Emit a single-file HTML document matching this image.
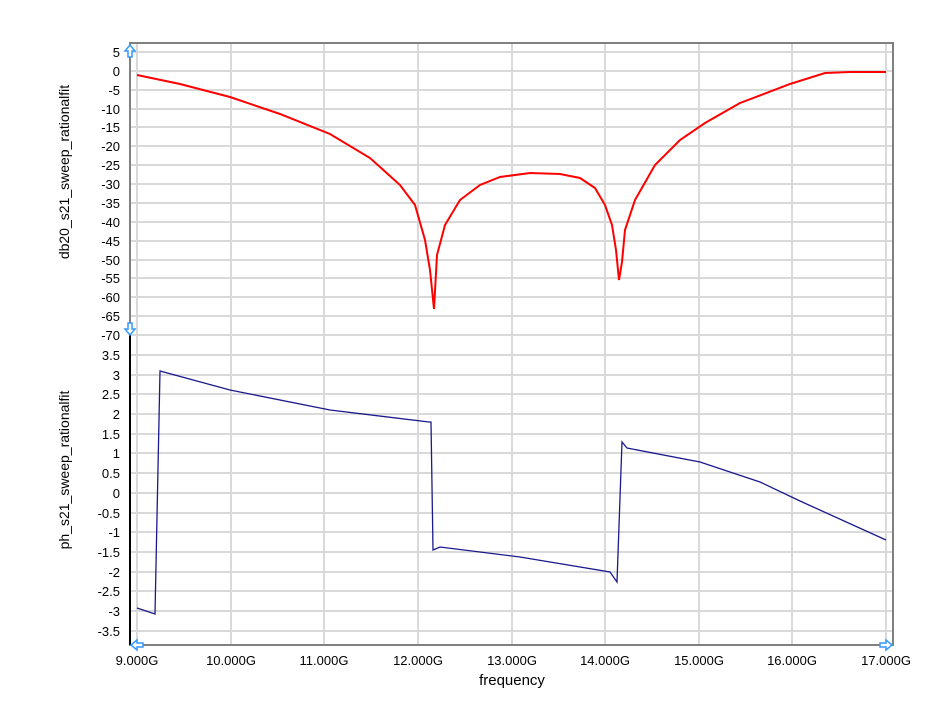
<!DOCTYPE html>
<html><head><style>
body{margin:0;background:#fff;}
svg{font-family:"Liberation Sans",Arial,sans-serif;}
</style></head><body>
<svg width="952" height="721" xmlns="http://www.w3.org/2000/svg">
<g stroke="#d9d9d9" stroke-width="2" fill="none">
<path d="M137 43V645M231 43V645M324 43V645M418 43V645M512 43V645M605 43V645M699 43V645M792 43V645M886 43V645"/>
<path d="M130 52H893M130 71H893M130 90H893M130 109H893M130 127H893M130 146H893M130 165H893M130 184H893M130 203H893M130 222H893M130 241H893M130 260H893M130 278H893M130 297H893M130 316H893M130 335H893"/>
<path d="M130 355H893M130 375H893M130 394H893M130 414H893M130 434H893M130 453H893M130 473H893M130 493H893M130 513H893M130 532H893M130 552H893M130 572H893M130 591H893M130 611H893M130 631H893"/>
</g>
<rect x="130" y="43" width="763" height="602" fill="none" stroke="#808080" stroke-width="2"/>
<line x1="130" y1="335" x2="130" y2="645" stroke="#000" stroke-width="2"/>
<g font-size="13" fill="#000" text-anchor="end">
<text x="120" y="57">5</text><text x="120" y="76">0</text><text x="120" y="95">-5</text><text x="120" y="114">-10</text><text x="120" y="132">-15</text><text x="120" y="151">-20</text><text x="120" y="170">-25</text><text x="120" y="189">-30</text><text x="120" y="208">-35</text><text x="120" y="227">-40</text><text x="120" y="246">-45</text><text x="120" y="265">-50</text><text x="120" y="283">-55</text><text x="120" y="302">-60</text><text x="120" y="321">-65</text><text x="120" y="340">-70</text>
<text x="120" y="360">3.5</text><text x="120" y="380">3</text><text x="120" y="399">2.5</text><text x="120" y="419">2</text><text x="120" y="439">1.5</text><text x="120" y="458">1</text><text x="120" y="478">0.5</text><text x="120" y="498">0</text><text x="120" y="518">-0.5</text><text x="120" y="537">-1</text><text x="120" y="557">-1.5</text><text x="120" y="577">-2</text><text x="120" y="596">-2.5</text><text x="120" y="616">-3</text><text x="120" y="636">-3.5</text>
</g>
<g font-size="13" fill="#000" text-anchor="middle">
<text x="137" y="665">9.000G</text><text x="231" y="665">10.000G</text><text x="324" y="665">11.000G</text><text x="418" y="665">12.000G</text><text x="512" y="665">13.000G</text><text x="605" y="665">14.000G</text><text x="699" y="665">15.000G</text><text x="792" y="665">16.000G</text><text x="886" y="665">17.000G</text>
<text x="512" y="685" font-size="15">frequency</text>
</g>
<text transform="translate(69,172) rotate(-90)" font-size="14" text-anchor="middle">db20_s21_sweep_rationalfit</text>
<text transform="translate(69,470) rotate(-90)" font-size="14" text-anchor="middle">ph_s21_sweep_rationalfit</text>
<polyline fill="none" stroke="#f00" stroke-width="2" points="137,75 180,84 230,97 280,114 330,134 370,158 400,185 415,205 425,240 430,270 434,309 437,255 445,225 460,200 480,185 500,177 530,173 560,174 580,178 595,188 605,205 612,225 616,250 619,280 622,262 625,230 635,200 655,165 680,140 705,123 740,103 790,84 825,73 850,72 886,72"/>
<polyline fill="none" stroke="#1a1a8c" stroke-width="1.3" points="137,608 155,614 160,371 230,390 330,410 429,422 431,422 433,550 440,547 520,557 610,572 617,582 622,442 627,448 700,462 760,482 800,501 886,540"/>
<g fill="#fff" stroke="#3399ff" stroke-width="1.5">
<path d="M130 45l-5 6h3v6h4v-6h3z"/>
<path d="M130 335l-5-6h3v-6h4v6h3z"/>
<path d="M131 645l6-5v3h6v4h-6v3z"/>
<path d="M892 645l-6-5v3h-6v4h6v3z"/>
</g>
</svg>
</body></html>
